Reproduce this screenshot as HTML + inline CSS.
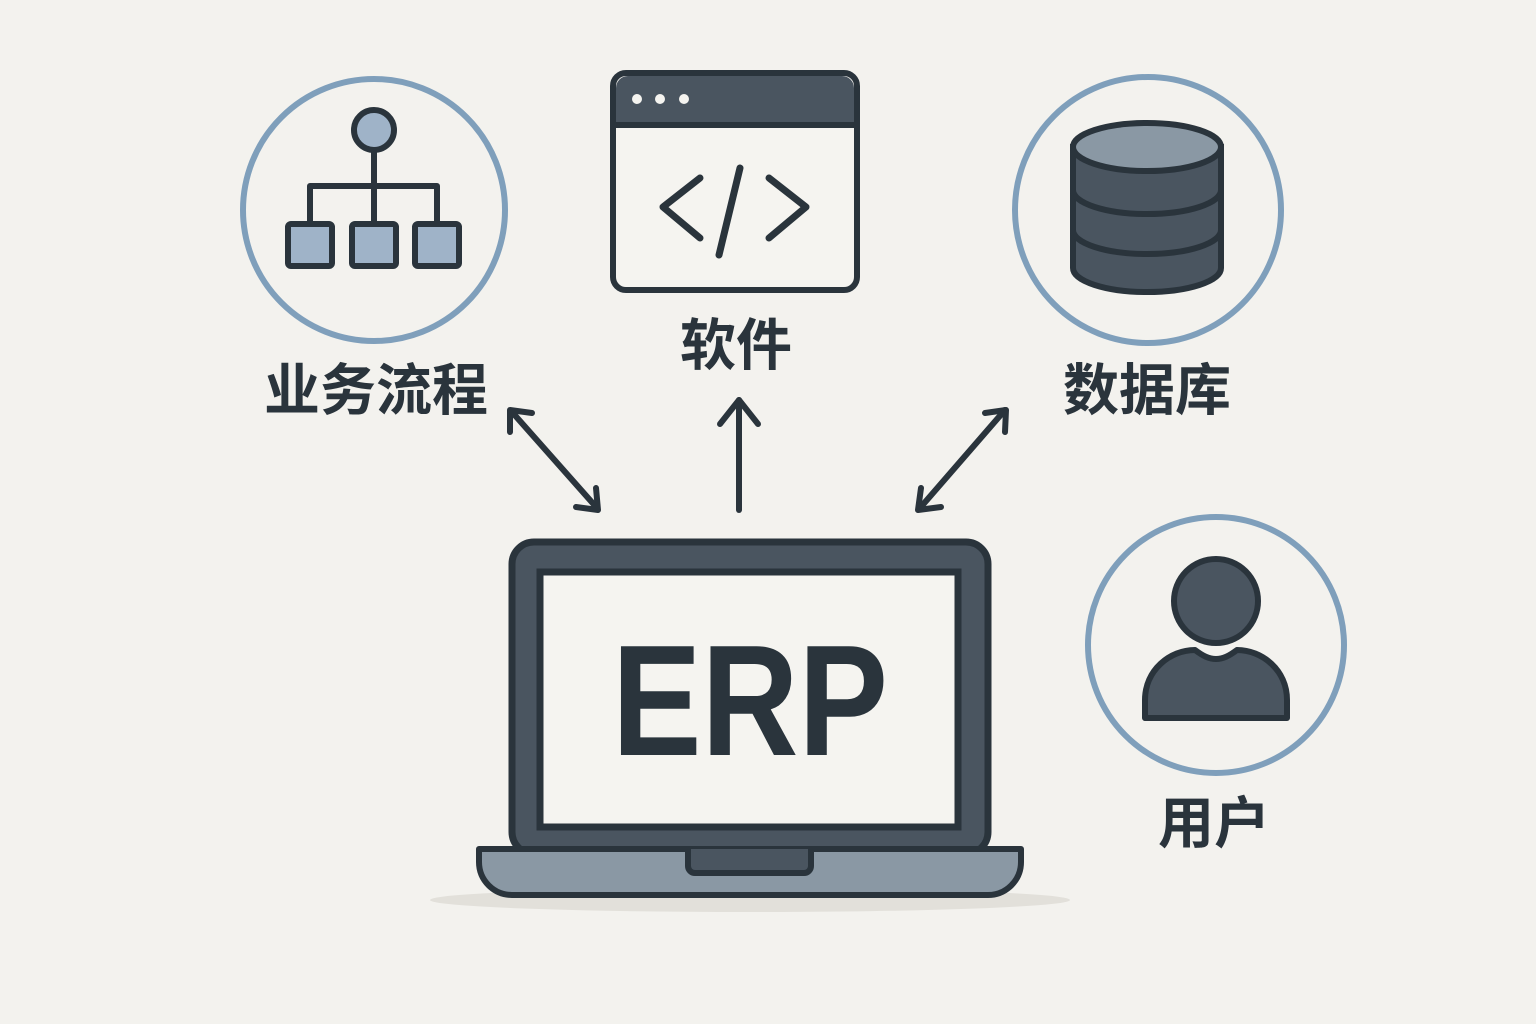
<!DOCTYPE html>
<html><head><meta charset="utf-8"><style>
html,body{margin:0;padding:0;background:#f3f2ee;}
svg{display:block}
text{font-family:"Liberation Sans","Noto Sans CJK SC",sans-serif;font-weight:bold;fill:#2a343c}
</style></head><body>
<svg width="1536" height="1024" viewBox="0 0 1536 1024">
<defs>
<marker id="ah" viewBox="0 0 10 10" refX="8" refY="5" markerWidth="5" markerHeight="5" orient="auto-start-reverse" markerUnits="userSpaceOnUse" style="overflow:visible">
</marker>
</defs>
<g fill="none" stroke="#7f9fbb" stroke-width="6">
<circle cx="374" cy="210" r="131"/>
<circle cx="1148" cy="210" r="133"/>
<circle cx="1216" cy="645" r="128"/>
</g>
<!-- hierarchy -->
<g stroke="#2a343c" stroke-width="6" fill="#9fb3c8" stroke-linejoin="round">
<line x1="374" y1="150" x2="374" y2="224"/>
<polyline fill="none" points="310,224 310,186 437,186 437,224"/>
<circle cx="374" cy="130" r="20"/>
<rect x="288" y="224" width="44" height="42" rx="3"/>
<rect x="352" y="224" width="44" height="42" rx="3"/>
<rect x="415" y="224" width="44" height="42" rx="3"/>
</g>
<text x="376" y="410" font-size="56" text-anchor="middle">业务流程</text>
<!-- software window -->
<rect x="613" y="73" width="244" height="217" rx="13" fill="#f5f4f0" stroke="#2a343c" stroke-width="6"/>
<path d="M616 125 V88 a12 12 0 0 1 12 -12 H842 a12 12 0 0 1 12 12 V125 Z" fill="#4a5560"/>
<line x1="613" y1="125" x2="857" y2="125" stroke="#2a343c" stroke-width="6"/>
<g fill="#f5f4f0"><circle cx="637" cy="99" r="5"/><circle cx="660" cy="99" r="5"/><circle cx="684" cy="99" r="5"/></g>
<g stroke="#2a343c" stroke-width="7" fill="none" stroke-linecap="round" stroke-linejoin="round">
<polyline points="700,178 663,207 700,238"/>
<line x1="740" y1="168" x2="719" y2="255"/>
<polyline points="769,178 806,207 769,238"/>
</g>
<text x="736" y="365" font-size="56" text-anchor="middle">软件</text>
<!-- database -->
<g stroke="#2a343c" stroke-width="6">
<path d="M1073 147 V268 a74 24 0 0 0 148 0 V147 Z" fill="#4a5560"/>
<path d="M1073 190 a74 24 0 0 0 148 0 M1073 230 a74 24 0 0 0 148 0" fill="none"/>
<ellipse cx="1147" cy="147" rx="74" ry="24" fill="#8a98a4"/>
</g>
<text x="1147" y="410" font-size="56" text-anchor="middle">数据库</text>
<!-- user -->
<g stroke="#2a343c" stroke-width="6" fill="#4a5560" stroke-linejoin="round">
<circle cx="1216" cy="601" r="42"/>
<path d="M1145 718 V700 c0 -30 25 -50 50 -50 c8 6 14 9 21 9 c7 0 13 -3 21 -9 c25 0 50 20 50 50 V718 Z"/>
</g>
<text x="1214" y="843" font-size="56" text-anchor="middle">用户</text>
<!-- arrows -->
<g stroke="#2a343c" stroke-width="6" fill="none" stroke-linecap="round" stroke-linejoin="round">
<line x1="512" y1="412" x2="597" y2="508"/>
<polyline points="510,432 510,410 532,413"/>
<polyline points="576,507 598,510 596,488"/>
<line x1="739" y1="400" x2="739" y2="510"/>
<polyline points="720,424 739,400 758,424"/>
<line x1="1005" y1="410" x2="920" y2="508"/>
<polyline points="985,413 1006,410 1005,432"/>
<polyline points="921,488 918,510 941,507"/>
</g>
<!-- laptop -->
<ellipse cx="750" cy="900" rx="320" ry="12" fill="#e2e0da"/>
<rect x="512" y="542" width="476" height="312" rx="22" fill="#4a5560" stroke="#2a343c" stroke-width="7"/>
<rect x="540" y="572" width="418" height="255" fill="#f5f4f0" stroke="#2a343c" stroke-width="7"/>
<text x="612" y="755" font-size="158" textLength="276" lengthAdjust="spacingAndGlyphs">ERP</text>
<path d="M479 849 H1021 V862 a33 33 0 0 1 -33 33 H512 a33 33 0 0 1 -33 -33 Z" fill="#8a98a4" stroke="#2a343c" stroke-width="6" stroke-linejoin="round"/>
<path d="M688 849 V866 a7 7 0 0 0 7 7 H804 a7 7 0 0 0 7 -7 V849" fill="#4a5560" stroke="#2a343c" stroke-width="6"/>
</svg>
</body></html>
